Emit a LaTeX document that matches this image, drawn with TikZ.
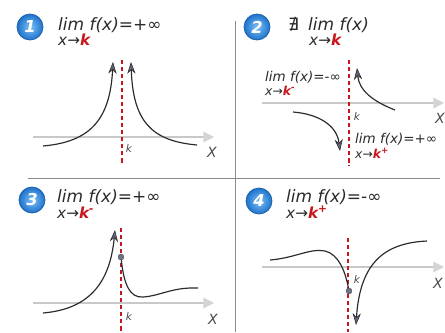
\documentclass[tikz,border=0pt]{standalone}
\usepackage{fontspec}
\setmainfont{DejaVu Sans}
\usepackage{tikz}
\usetikzlibrary{arrows.meta,positioning,shadings}
\definecolor{lmInk}{HTML}{2B2B2B}
\definecolor{lmTip}{HTML}{5F6478}
\definecolor{lmAxis}{HTML}{C8C8C8}
\definecolor{lmAxisTip}{HTML}{D4D4D4}
\definecolor{lmRed}{HTML}{C8161D}
\definecolor{lmBlueIn}{HTML}{7CC2F5}
\definecolor{lmBlueOut}{HTML}{1E72CC}
\definecolor{lmBlueRim}{HTML}{1A5DA8}
\definecolor{lmRule}{HTML}{8A8A8A}
\definecolor{lmDot}{HTML}{6E7285}
\newcommand{\redk}[1]{\textcolor{lmRed}{\bfseries k#1}}
\tikzset{
  % Numbered blue badge
  badge/.style={circle,minimum size=0.78cm,inner sep=0pt,
    inner color=lmBlueIn,outer color=lmBlueOut,
    draw=lmBlueRim,line width=0.6pt,text=white,
    font=\fontsize{14}{14}\selectfont\bfseries\itshape},
  % Main limit text and its x->k line
  limtxt/.style={anchor=base west,inner sep=0pt,
    font=\fontsize{14.5}{16}\selectfont\itshape,text=lmInk},
  limsub/.style={anchor=base west,inner sep=0pt,
    font=\fontsize{13}{14}\selectfont\itshape,text=lmInk},
  % Side limits (panel 2)
  sidetxt/.style={anchor=base west,inner sep=0pt,
    font=\fontsize{11.5}{13}\selectfont\itshape,text=lmInk},
  sidesub/.style={anchor=base west,inner sep=0pt,
    font=\fontsize{10.5}{12}\selectfont\itshape,text=lmInk},
  % Axis labels
  axlbl/.style={inner sep=0pt,font=\fontsize{12}{12}\selectfont\itshape,text=lmInk!85},
  klbl/.style={inner sep=0pt,font=\fontsize{9}{9}\selectfont\itshape,text=lmInk!85},
  % Lines
  axis/.style={draw=lmAxis,line width=1pt,
    -{Triangle[length=9pt,width=9pt,fill=lmAxisTip,color=lmAxisTip]}},
  asym/.style={draw=lmRed,line width=1.6pt,dash pattern=on 3.5pt off 2.5pt},
  crv/.style={draw=lmInk,line width=1pt,
    -{Stealth[length=10pt,width=7pt,fill=lmTip,color=lmInk,line width=0.5pt]}},
  crvplain/.style={draw=lmInk,line width=1pt},
  hole/.style={circle,inner sep=0pt,minimum size=5pt,fill=lmDot,draw=lmInk!80,line width=0.4pt},
  rule/.style={draw=lmRule,line width=0.8pt},
}

\begin{document}
\begin{tikzpicture}[x=0.03cm,y=-0.03cm]

  \fill[white] (0,0) rectangle (445,332);
  \useasboundingbox (0,0) rectangle (445,332);

  % panel frame
  \coordinate (vtop) at (235,21);
  \coordinate (vbot) at (235,332);
  \coordinate (hl) at (28,178);
  \coordinate (hr) at (440,178);
  \draw[rule] (vtop) -- (vbot);
  \draw[rule] (hl) -- (hr);

  % badges and titles
  \node[badge] (b1) at (30,27) {1};
  \node[badge] (b2) at (257,27) {2};
  \node[badge] (b3) at (32,200) {3};
  \node[badge] (b4) at (259,201) {4};

  \node[limtxt] (t1) at (58,30) {lim f(x)=+∞};
  \node[limsub] (u1) at (58,45) {x→\redk{}};

  \node[limtxt] (n2) at (288,30) {∄};
  \node[limtxt] (t2) at (308,30) {lim f(x)};
  \node[limsub] (u2) at (309,45) {x→\redk{}};

  \node[limtxt] (t3) at (57,202) {lim f(x)=+∞};
  \node[limsub] (u3) at (57,218) {x→\redk{\textsuperscript{-}}};

  \node[limtxt] (t4) at (286,202) {lim f(x)=-∞};
  \node[limsub] (u4) at (286,218) {x→\redk{\textsuperscript{+}}};

  % side limits of panel 2
  \node[sidetxt] (sl) at (265,81) {lim f(x)=-∞};
  \node[sidesub] (sls) at (265,95) {x→\redk{\textsuperscript{-}}};
  \node[sidetxt] (sr) at (355,143) {lim f(x)=+∞};
  \node[sidesub] (srs) at (355,158) {x→\redk{\textsuperscript{+}}};

  % axes
  \coordinate (ax1s) at (33,137);  \coordinate (ax1e) at (214,137);
  \coordinate (ax2s) at (262,103); \coordinate (ax2e) at (444,103);
  \coordinate (ax3s) at (33,303);  \coordinate (ax3e) at (214,303);
  \coordinate (ax4s) at (262,267); \coordinate (ax4e) at (444,267);
  \foreach \p in {1,2,3,4}
    \draw[axis] (ax\p s) -- (ax\p e);

  \node[axlbl] (x1) at (212,152) {X};
  \node[axlbl] (x2) at (440,118) {X};
  \node[axlbl] (x3) at (213,319) {X};
  \node[axlbl] (x4) at (438,283) {X};

  % asymptotes x = k
  \coordinate (as1s) at (122,60);  \coordinate (as1e) at (122,163);
  \coordinate (as2s) at (349,60);  \coordinate (as2e) at (349,166);
  \coordinate (as3s) at (121,228); \coordinate (as3e) at (121,332);
  \coordinate (as4s) at (348,238); \coordinate (as4e) at (348,332);
  \foreach \p in {1,2,3,4}
    \draw[asym] (as\p s) -- (as\p e);

  \node[klbl] (k1) at (129,148) {k};
  \node[klbl] (k2) at (357,116) {k};
  \node[klbl] (k3) at (129,316) {k};
  \node[klbl] (k4) at (357,279) {k};

  % panel 1
  \coordinate (p1a) at (43,146);  \coordinate (p1b) at (113,62);
  \coordinate (p1c) at (197,145); \coordinate (p1d) at (131,62);
  \draw[crv] (p1a) .. controls (88,142) and (110,122) .. (p1b);
  \draw[crv] (p1c) .. controls (152,141) and (133,122) .. (p1d);

  % panel 2
  \coordinate (p2a) at (395,110); \coordinate (p2b) at (357,68);
  \coordinate (p2c) at (293,112); \coordinate (p2d) at (340,151);
  \draw[crv] (p2a) .. controls (372,101) and (359,90) .. (p2b);
  \draw[crv] (p2c) .. controls (318,114) and (337,125) .. (p2d);

  % panel 3
  \coordinate (p3a) at (43,313);  \coordinate (p3b) at (115,230);
  \coordinate (p3m) at (143,297); \coordinate (p3e) at (198,288);
  \node[hole] (h3) at (121,257) {};
  \draw[crv] (p3a) .. controls (90,309) and (110,282) .. (p3b);
  \draw[crvplain] (h3) .. controls (124,285) and (130,298) .. (p3m)
    .. controls (160,296) and (172,287) .. (p3e);

  % panel 4
  \coordinate (p4a) at (270,260); \coordinate (p4m) at (325,251);
  \coordinate (p4c) at (427,241); \coordinate (p4d) at (356,325);
  \node[hole] (h4) at (349,291) {};
  \draw[crvplain] (p4a) .. controls (295,258) and (310,248) .. (p4m)
    .. controls (338,254) and (345,270) .. (h4);
  \draw[crv] (p4c) .. controls (385,243) and (360,262) .. (p4d);

\end{tikzpicture}
\end{document}
